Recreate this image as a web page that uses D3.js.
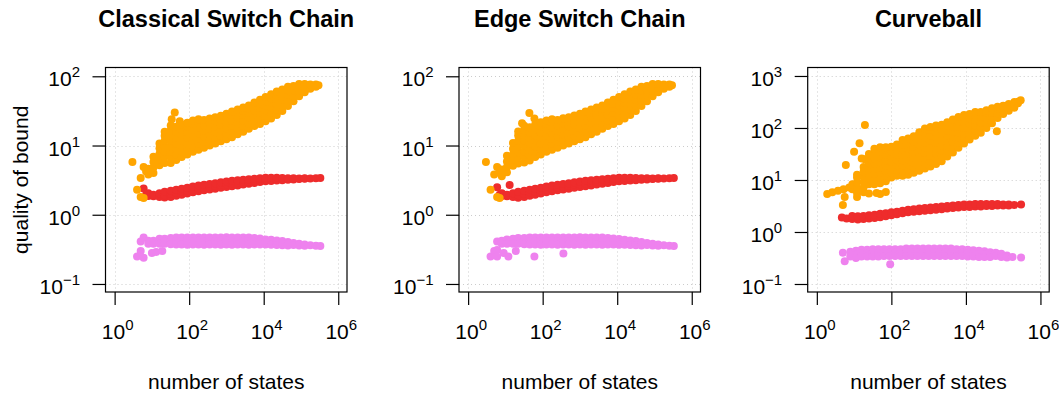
<!DOCTYPE html>
<html>
<head>
<meta charset="utf-8">
<script src="https://cdn.jsdelivr.net/npm/d3@7"></script>
<style>
  body { margin: 0; background: #ffffff; }
  text { font-family: "Liberation Sans", Arial, Helvetica, sans-serif; fill: #000; }
</style>
</head>
<body>
<svg id="chart" width="1059" height="396"></svg>
<script>
// Quality of the mixing-time bound against the size of the state space.
// Each entry: [number of states, [quality values observed for graphs of that size]]

const panelTitles = ["Classical Switch Chain", "Edge Switch Chain", "Curveball"];
const xTickExponents = [0, 2, 4, 6];
const yTickExponentsSwitch = [-1, 0, 1, 2];
const yTickExponentsCurveball = [-1, 0, 1, 2, 3];
const xAxisTitle = "number of states";
const yAxisTitle = "quality of bound";

const classicalOrange = [
  [3, [5.8]], [4, [2.3]], [5, [1.8, 3.4]], [6, [1.75, 4.9]], [7, [4.2]],
  [8, [3.8, 4.6]],
  [11, [4.0, 4.8, 5.8, 6.9]],
  [16, [5.2, 6.3, 7.6, 9.1, 10.7]],
  [22, [5.6, 6.8, 8.1, 9.8, 11.7, 13.8, 15.8]],
  [32, [5.6, 6.8, 8.1, 9.8, 11.7, 14.1, 16.6, 19.5]],
  [34, [24]], [41, [30]], [56, [22.4]],
  [45, [6.2, 7.4, 8.9, 10.7, 12.9, 15.5, 18.6]],
  [63, [6.8, 8.1, 9.8, 11.7, 14.1, 17, 20]],
  [89, [7.4, 8.9, 10.7, 12.9, 15.5, 18.6, 21.4]],
  [126, [8.1, 9.8, 11.7, 14.1, 17, 20.4, 22.9]],
  [178, [8.7, 10.5, 12.6, 15.1, 18.2, 21.4, 24]],
  [251, [9.3, 11.2, 13.5, 16.2, 19.5, 23.4]],
  [355, [10, 12, 14.5, 17.4, 20.9, 24.5]],
  [501, [10.7, 12.9, 15.5, 18.6, 22.4, 25.7]],
  [708, [11.5, 13.8, 16.6, 20, 23.4, 26.9]],
  [1000, [12.3, 14.8, 17.8, 21.4, 25.1, 28.8]],
  [1410, [13.2, 15.8, 19.1, 22.9, 26.9, 30.9]],
  [2000, [14.5, 17.4, 20.9, 25.1, 29.5, 33.1]],
  [2820, [15.8, 19.1, 22.9, 27.5, 31.6, 35.5]],
  [3980, [17.4, 20.9, 25.1, 29.5, 33.9, 38]],
  [5620, [19.1, 22.9, 27.5, 32.4, 37.2, 41.7]],
  [7940, [20.4, 24.5, 29.5, 34.7, 39.8, 45.7]],
  [11200, [22.4, 26.9, 32.4, 38, 43.7, 50.1]],
  [15800, [24.5, 29.5, 35.5, 41.7, 47.9, 55]],
  [22400, [27.5, 33.1, 39.8, 46.8, 53.7, 60.3]],
  [31600, [31.6, 38, 45.7, 55, 64.6]],
  [44700, [37.2, 44.7, 53.7, 63.1, 70.8]],
  [63100, [43.7, 52.5, 63.1, 72.4]],
  [89100, [51.3, 61.7, 72.4, 77.6]],
  [126000, [58.9, 69.2, 77.6]],
  [178000, [66.1, 75.9]],
  [251000, [70.8, 75.9]],
  [295000, [74.1]]
];

const classicalRed = [
  [6, [2.4]], [7, [1.95]], [8, [1.86, 2.04]],
  [11, [1.85, 1.95]], [16, [1.81, 2.04]], [22, [1.77, 1.92, 2.14]],
  [32, [1.81, 2.0, 2.22]], [45, [1.88, 2.08, 2.3]], [63, [1.95, 2.15, 2.38]],
  [89, [2.03, 2.23, 2.46]], [126, [2.11, 2.31, 2.55]], [178, [2.19, 2.4, 2.64]],
  [251, [2.26, 2.47, 2.72]], [355, [2.32, 2.54, 2.79]], [501, [2.38, 2.6, 2.86]],
  [708, [2.45, 2.68, 2.94]], [1000, [2.51, 2.75, 3.02]], [1410, [2.59, 2.83, 3.11]],
  [2000, [2.65, 2.9, 3.16]], [2820, [2.73, 2.97, 3.21]], [3980, [2.8, 3.03, 3.26]],
  [5620, [2.88, 3.1, 3.31]], [7940, [2.96, 3.16, 3.37]], [11200, [3.04, 3.22, 3.42]],
  [15800, [3.08, 3.25, 3.42]], [22400, [3.12, 3.41]], [31600, [3.16, 3.4]],
  [44700, [3.19, 3.38]], [63100, [3.23, 3.37]], [89100, [3.27, 3.35]],
  [126000, [3.3, 3.36]], [178000, [3.33]], [251000, [3.37]], [331000, [3.39]]
];

const classicalViolet = [
  [4, [0.25]], [5, [0.41, 0.3]], [6, [0.47, 0.24]], [8, [0.42, 0.38]], [10, [0.28]],
  [11, [0.42, 0.38]], [13, [0.29]], [16, [0.45, 0.41, 0.38]], [19, [0.3]],
  [22, [0.45, 0.41, 0.38]], [32, [0.46, 0.42, 0.375]], [45, [0.468, 0.417, 0.372]],
  [63, [0.468, 0.417, 0.372]], [89, [0.47, 0.42, 0.37]], [126, [0.468, 0.417, 0.372]],
  [178, [0.47, 0.42, 0.372]], [251, [0.468, 0.417, 0.37]], [355, [0.47, 0.42, 0.372]],
  [501, [0.468, 0.417, 0.372]], [708, [0.47, 0.42, 0.37]], [1000, [0.472, 0.42, 0.372]],
  [1410, [0.47, 0.417, 0.37]], [2000, [0.468, 0.417, 0.372]], [2820, [0.47, 0.42, 0.372]],
  [3980, [0.468, 0.417, 0.37]], [5620, [0.46, 0.415, 0.372]],
  [7940, [0.455, 0.41, 0.372]], [11200, [0.44, 0.405, 0.372]], [15800, [0.437, 0.403, 0.37]],
  [22400, [0.425, 0.395, 0.367]], [31600, [0.417, 0.389, 0.363]], [44700, [0.405, 0.38, 0.36]],
  [63100, [0.39, 0.365]], [89100, [0.38, 0.36]], [126000, [0.372, 0.358]],
  [178000, [0.363]], [251000, [0.358]], [331000, [0.355]]
];

const edgeOrange = [
  [3, [5.8]], [4, [2.3]], [5, [3.8]], [6, [1.8, 4.9]], [7, [1.75, 4.2]],
  [8, [3.6, 4.5]],
  [11, [4.1, 4.9, 5.9, 7.1]],
  [16, [5.1, 6.2, 7.5, 9.0, 10.9]],
  [22, [5.5, 6.7, 8.0, 9.7, 11.6, 13.9, 16]],
  [28, [21]],
  [32, [5.7, 6.9, 8.2, 9.9, 11.8, 14.2, 16.8, 19.3]],
  [44, [29.5]], [60, [24.5]],
  [45, [6.1, 7.3, 8.8, 10.6, 12.8, 15.4, 18.4]],
  [63, [6.8, 8.1, 9.8, 11.7, 14.1, 17, 20.2]],
  [89, [7.4, 8.9, 10.7, 12.9, 15.5, 18.6, 21.6]],
  [126, [8.1, 9.8, 11.7, 14.1, 17, 20.4, 22.9]],
  [178, [8.7, 10.5, 12.6, 15.1, 18.2, 21.4, 24]],
  [251, [9.3, 11.2, 13.5, 16.2, 19.5, 23.4]],
  [355, [10, 12, 14.5, 17.4, 20.9, 24.7]],
  [501, [10.7, 12.9, 15.5, 18.6, 22.4, 25.7]],
  [708, [11.5, 13.8, 16.6, 20, 23.4, 27.2]],
  [1000, [12.3, 14.8, 17.8, 21.4, 25.1, 28.8]],
  [1410, [13.2, 15.8, 19.1, 22.9, 26.9, 30.9]],
  [2000, [14.5, 17.4, 20.9, 25.1, 29.5, 33.1]],
  [2820, [15.8, 19.1, 22.9, 27.5, 31.6, 35.5]],
  [3980, [17.4, 20.9, 25.1, 29.5, 33.9, 38]],
  [5620, [19.1, 22.9, 27.5, 32.4, 37.2, 41.7]],
  [7940, [20.4, 24.5, 29.5, 34.7, 39.8, 45.7]],
  [11200, [22.4, 26.9, 32.4, 38, 43.7, 50.1]],
  [15800, [24.5, 29.5, 35.5, 41.7, 47.9, 55]],
  [22400, [27.5, 33.1, 39.8, 46.8, 53.7, 60.3]],
  [31600, [31.6, 38, 45.7, 55, 64.6]],
  [44700, [37.2, 44.7, 53.7, 63.1, 70.8]],
  [63100, [43.7, 52.5, 63.1, 72.4]],
  [89100, [51.3, 61.7, 72.4, 77.6]],
  [126000, [58.9, 69.2, 77.6]],
  [178000, [66.1, 75.9]],
  [251000, [70.8, 75.9]],
  [295000, [74.1]]
];

const edgeRed = [
  [6, [2.5]], [7, [1.95]], [8, [1.86, 2.04]], [13, [2.7]],
  [11, [1.85, 1.95]], [16, [1.8, 2.04]], [22, [1.76, 1.92, 2.14]],
  [32, [1.8, 2.0, 2.22]], [45, [1.88, 2.08, 2.3]], [63, [1.95, 2.15, 2.38]],
  [89, [2.03, 2.23, 2.46]], [126, [2.11, 2.31, 2.55]], [178, [2.19, 2.4, 2.64]],
  [251, [2.26, 2.47, 2.72]], [355, [2.32, 2.54, 2.79]], [501, [2.38, 2.6, 2.86]],
  [708, [2.45, 2.68, 2.94]], [1000, [2.51, 2.75, 3.02]], [1410, [2.59, 2.83, 3.11]],
  [2000, [2.65, 2.9, 3.16]], [2820, [2.73, 2.97, 3.21]], [3980, [2.8, 3.03, 3.26]],
  [5620, [2.88, 3.1, 3.31]], [7940, [2.96, 3.16, 3.37]], [11200, [3.04, 3.22, 3.42]],
  [15800, [3.08, 3.25, 3.42]], [22400, [3.12, 3.41]], [31600, [3.16, 3.4]],
  [44700, [3.19, 3.38]], [63100, [3.23, 3.37]], [89100, [3.27, 3.35]],
  [126000, [3.3, 3.36]], [178000, [3.33]], [251000, [3.37]], [331000, [3.39]]
];

const edgeViolet = [
  [4, [0.25]], [5, [0.3]], [6, [0.41, 0.31, 0.25]], [8, [0.42, 0.38]], [9, [0.28]],
  [12, [0.25]], [11, [0.44, 0.38]], [16, [0.45, 0.41, 0.38]], [19, [0.3]],
  [22, [0.46, 0.41, 0.38]], [32, [0.46, 0.42, 0.375]], [45, [0.468, 0.417, 0.372]],
  [60, [0.25]], [63, [0.468, 0.417, 0.372]], [89, [0.47, 0.42, 0.37]], [126, [0.468, 0.417, 0.372]],
  [178, [0.47, 0.42, 0.372]], [251, [0.468, 0.417, 0.37]], [355, [0.47, 0.42, 0.372]],
  [360, [0.275]],
  [501, [0.468, 0.417, 0.372]], [708, [0.47, 0.42, 0.37]], [1000, [0.472, 0.42, 0.372]],
  [1410, [0.47, 0.417, 0.37]], [2000, [0.468, 0.417, 0.372]], [2820, [0.47, 0.42, 0.372]],
  [3980, [0.468, 0.417, 0.37]], [5620, [0.46, 0.415, 0.372]],
  [7940, [0.455, 0.41, 0.372]], [11200, [0.445, 0.405, 0.37]], [15800, [0.437, 0.403, 0.368]],
  [22400, [0.425, 0.395, 0.365]], [31600, [0.417, 0.389, 0.362]], [44700, [0.405, 0.38, 0.36]],
  [63100, [0.39, 0.365]], [89100, [0.38, 0.36]], [126000, [0.372, 0.358]],
  [178000, [0.363]], [251000, [0.358]], [331000, [0.355]]
];

const curveballOrange = [
  [1.9, [5.4]], [2.6, [5.8]], [3.7, [6.2]], [5.2, [6.6]], [7.4, [7.2]],
  [5, [3.3]], [5.6, [4.7]], [6, [19.5]],
  [10, [35]], [14, [51]], [19.5, [114, 25]], [16, [26]],
  [9, [6.6, 8.3]],
  [12, [4.7, 5.6, 7.1, 8.9, 11.2, 12.6]],
  [18, [5.8, 7.2, 9.1, 11.5, 14.5, 17.8]],
  [25, [5.5, 8.3, 10.5, 13.2, 16.6, 20.9, 26.3, 31.6]],
  [35, [8.3, 10.5, 13.2, 16.6, 20.9, 26.3, 33.1, 39.8]],
  [40, [5.6]],
  [50, [5.4, 8.7, 11, 13.8, 17.4, 21.9, 27.5, 34.7, 42.7]],
  [71, [5.9, 9.5, 12, 15.1, 19.1, 24, 30.2, 38, 42.7]],
  [100, [11.2, 14.1, 17.8, 22.4, 28.2, 35.5, 43.7]],
  [141, [12, 15.1, 19.1, 24, 30.2, 38, 47.9]],
  [200, [12, 15.1, 19.1, 24, 30.2, 38, 47.9, 58.9]],
  [282, [12.6, 15.8, 20, 25.1, 31.6, 39.8, 50.1, 63.1]],
  [398, [13.8, 17.4, 21.9, 27.5, 34.7, 43.7, 55, 69.2]],
  [562, [15.1, 19.1, 24, 30.2, 38, 47.9, 60.3, 75.9, 83.2]],
  [794, [16.6, 20.9, 26.3, 33.1, 41.7, 52.5, 66.1, 83.2, 97.7]],
  [1120, [18.2, 22.9, 28.8, 36.3, 45.7, 57.5, 72.4, 91.2, 105]],
  [1580, [20.4, 25.7, 32.4, 40.7, 51.3, 64.6, 81.3, 102, 112]],
  [2240, [22.9, 28.8, 36.3, 45.7, 57.5, 72.4, 91.2, 115]],
  [3160, [28.2, 35.5, 44.7, 56.2, 70.8, 89.1, 112, 129]],
  [4470, [33.9, 42.7, 53.7, 67.6, 85.1, 107, 135, 145]],
  [6310, [41.7, 52.5, 66.1, 83.2, 105, 132, 162]],
  [8910, [50.1, 63.1, 79.4, 100, 126, 158, 178]],
  [12600, [60.3, 75.9, 95.5, 120, 151, 186]],
  [17800, [70.8, 89.1, 112, 141, 178, 204]],
  [25100, [81.3, 102, 129, 162, 204]],
  [35500, [100, 126, 158, 200, 219]],
  [50100, [123, 155, 195, 240]],
  [67600, [87]],
  [70800, [155, 191, 234, 257]],
  [100000, [186, 224, 269]],
  [141000, [214, 251, 288]],
  [200000, [245, 282, 316]],
  [250000, [300, 320]],
  [295000, [340]]
];

const curveballRed = [
  [4.7, [1.9]], [6.3, [1.82]], [8.9, [1.78, 2.04]], [12.6, [1.74, 2.0]],
  [17.8, [1.78, 2.04]], [25.1, [1.82, 2.09]], [35.5, [1.86, 2.14]], [50.1, [1.91, 2.24]],
  [70.8, [2.0, 2.29]], [100, [2.09, 2.4]], [141, [2.19, 2.45]], [200, [2.29, 2.57]],
  [282, [2.4, 2.69]], [398, [2.45, 2.75]], [562, [2.51, 2.82]], [794, [2.57, 2.88]],
  [1120, [2.63, 2.95]], [1580, [2.69, 3.02]], [2240, [2.75, 3.09]], [3160, [2.82, 3.16]],
  [4470, [2.88, 3.24]], [6310, [2.95, 3.31]], [8910, [3.02, 3.39]], [12600, [3.02, 3.39]],
  [17800, [3.09, 3.47]], [25100, [3.09, 3.47]], [35500, [3.16, 3.47]], [50100, [3.16, 3.47]],
  [70800, [3.24, 3.47]], [100000, [3.24, 3.39]], [141000, [3.24, 3.39]],
  [200000, [3.31]], [302000, [3.39]]
];

const curveballViolet = [
  [5, [0.4]], [5.6, [0.275]], [7.9, [0.417, 0.339]], [11.2, [0.437, 0.363, 0.316]],
  [15.8, [0.457, 0.389, 0.339]], [22.4, [0.457, 0.389, 0.339]], [31.6, [0.468, 0.398, 0.339]],
  [44.7, [0.468, 0.398, 0.339]], [63.1, [0.468, 0.398, 0.347]], [89.1, [0.468, 0.398, 0.347]],
  [93, [0.24]],
  [126, [0.468, 0.4, 0.347]], [178, [0.468, 0.4, 0.347]], [251, [0.479, 0.4, 0.347]],
  [355, [0.479, 0.407, 0.347]], [501, [0.479, 0.407, 0.347]], [708, [0.479, 0.407, 0.347]],
  [1000, [0.479, 0.407, 0.347]], [1410, [0.479, 0.407, 0.347]], [2000, [0.479, 0.407, 0.347]],
  [2820, [0.479, 0.407, 0.347]], [3980, [0.479, 0.407, 0.347]], [5620, [0.468, 0.4, 0.347]],
  [7940, [0.468, 0.398, 0.347]], [11200, [0.457, 0.389, 0.339]], [15800, [0.447, 0.389, 0.339]],
  [22400, [0.437, 0.38, 0.331]], [31600, [0.427, 0.372, 0.331]], [44700, [0.407, 0.355, 0.331]],
  [63100, [0.398, 0.347]], [89100, [0.38, 0.331]], [126000, [0.355, 0.324]],
  [178000, [0.331]], [302000, [0.324]]
];

// ---- layout ----
const svg = d3.select("#chart");
const boxTop = 67.5, boxBottom = 292, boxWidth = 241.5;
const xExtentExp = [-0.245, 6.235];
const colors = { orange: "#FFA500", red: "#EE2C2C", violet: "#EE82EE" };
const pointRadius = 4;
const tickFont = 21, supFont = 15, axisTitleFont = 21, titleFont = 23.5;

const panels = [
  { title: panelTitles[0], left: 105.5, yExp: [-1.116, 2.127], yTicks: yTickExponentsSwitch,
    series: [[classicalRed, colors.red], [classicalViolet, colors.violet], [classicalOrange, colors.orange]], showYTitle: true },
  { title: panelTitles[1], left: 459, yExp: [-1.116, 2.127], yTicks: yTickExponentsSwitch,
    series: [[edgeRed, colors.red], [edgeViolet, colors.violet], [edgeOrange, colors.orange]], showYTitle: false },
  { title: panelTitles[2], left: 807.7, yExp: [-1.154, 3.163], yTicks: yTickExponentsCurveball,
    series: [[curveballRed, colors.red], [curveballViolet, colors.violet], [curveballOrange, colors.orange]], showYTitle: false }
];

const flatten = cols => cols.flatMap(([n, qs]) => qs.map(q => [n, q]));
const powerLabel = (sel, e) => {
  sel.append("tspan").text("10");
  sel.append("tspan").attr("dy", -9).attr("font-size", supFont)
    .text(e < 0 ? "\u2212" + Math.abs(e) : String(e));
};

panels.forEach(p => {
  const x = d3.scaleLog()
    .domain([Math.pow(10, xExtentExp[0]), Math.pow(10, xExtentExp[1])])
    .range([p.left, p.left + boxWidth]);
  const y = d3.scaleLog()
    .domain([Math.pow(10, p.yExp[0]), Math.pow(10, p.yExp[1])])
    .range([boxBottom, boxTop]);
  const g = svg.append("g");
  const xTicks = xTickExponents.map(e => Math.pow(10, e));
  const yTicks = p.yTicks.map(e => Math.pow(10, e));

  // dotted grid at the tick positions
  const grid = g.append("g").attr("stroke", "#cccccc").attr("stroke-width", 1)
    .attr("stroke-dasharray", "1,3").attr("fill", "none");
  grid.selectAll("line.v").data(xTicks).join("line").attr("class", "v")
    .attr("x1", d => Math.round(x(d)) + 0.5).attr("x2", d => Math.round(x(d)) + 0.5)
    .attr("y1", boxTop).attr("y2", boxBottom);
  grid.selectAll("line.h").data(yTicks).join("line").attr("class", "h")
    .attr("y1", d => Math.round(y(d)) + 0.5).attr("y2", d => Math.round(y(d)) + 0.5)
    .attr("x1", p.left).attr("x2", p.left + boxWidth);

  // points
  p.series.forEach(([cols, color]) => {
    g.append("g").attr("fill", color)
      .selectAll("circle").data(flatten(cols)).join("circle")
      .attr("cx", d => x(d[0])).attr("cy", d => y(d[1])).attr("r", pointRadius);
  });

  // frame
  g.append("rect").attr("x", p.left).attr("y", boxTop)
    .attr("width", boxWidth).attr("height", boxBottom - boxTop)
    .attr("fill", "none").attr("stroke", "#000").attr("stroke-width", 1.2);

  // x axis ticks and labels
  const xAxis = g.append("g").attr("transform", `translate(0,${boxBottom})`)
    .call(d3.axisBottom(x).tickValues(xTicks).tickSize(13).tickFormat(""));
  xAxis.select(".domain").remove();
  xAxis.selectAll("line").attr("stroke", "#000").attr("stroke-width", 1.2);
  xTickExponents.forEach(e => {
    g.append("text").attr("x", x(Math.pow(10, e)) + 3).attr("y", 339)
      .attr("text-anchor", "middle").attr("font-size", tickFont)
      .call(powerLabel, e);
  });

  // y axis ticks and labels
  const yAxis = g.append("g").attr("transform", `translate(${p.left},0)`)
    .call(d3.axisLeft(y).tickValues(yTicks).tickSize(13).tickFormat(""));
  yAxis.select(".domain").remove();
  yAxis.selectAll("line").attr("stroke", "#000").attr("stroke-width", 1.2);
  p.yTicks.forEach(e => {
    g.append("text").attr("x", p.left - 25.5).attr("y", y(Math.pow(10, e)) + 10)
      .attr("text-anchor", "end").attr("font-size", tickFont)
      .call(powerLabel, e);
  });

  // titles
  g.append("text").attr("x", p.left + boxWidth / 2).attr("y", 27)
    .attr("text-anchor", "middle").attr("font-size", titleFont).attr("font-weight", "bold")
    .text(p.title);
  g.append("text").attr("x", p.left + boxWidth / 2).attr("y", 389)
    .attr("text-anchor", "middle").attr("font-size", axisTitleFont).text(xAxisTitle);
  if (p.showYTitle) {
    g.append("text").attr("transform", `translate(28,${(boxTop + boxBottom) / 2}) rotate(-90)`)
      .attr("text-anchor", "middle").attr("font-size", axisTitleFont).text(yAxisTitle);
  }
});
</script>
</body>
</html>
